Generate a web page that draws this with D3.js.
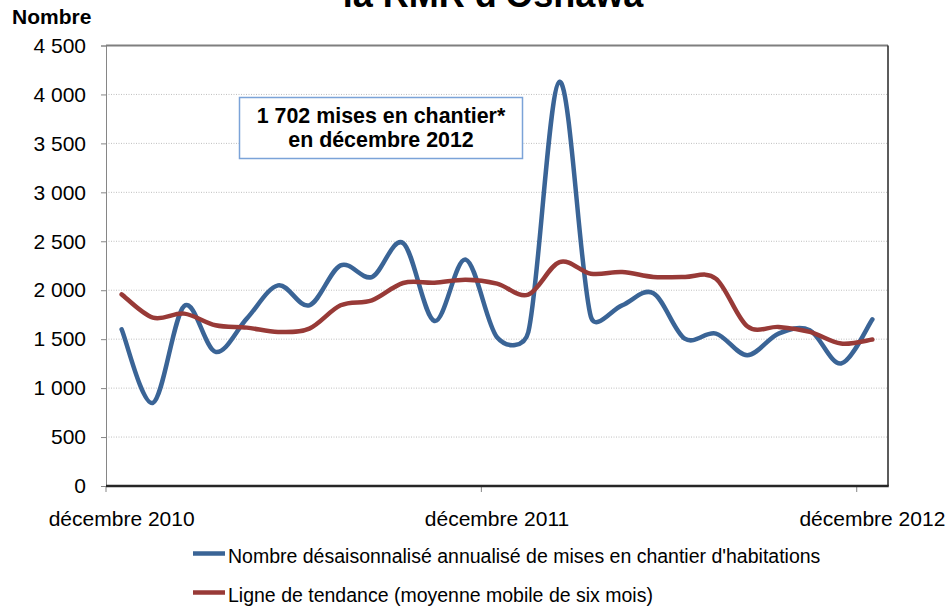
<!DOCTYPE html>
<html lang="fr">
  <head>
    <meta charset="utf-8">
    <title>Mises en chantier - RMR d'Oshawa</title>
    <script src="https://cdn.jsdelivr.net/npm/d3@7"></script>
    <style type="text/css">
body {
  margin: 0;
  background: #fff;
}

svg {
  font-family: "Liberation Sans", Arial, sans-serif;
}

.grid line {
  stroke: #bfbfbf;
  stroke-dasharray: 1,1.5;
}

.axis text {
  fill: #000;
}

.series {
  fill: none;
  stroke-width: 4.5px;
  stroke-linejoin: round;
  stroke-linecap: round;
}
    </style>
  </head>
  <body>
    <div id="mainCanvas"></div>

    <script>
      // monthly categories, Dec 2010 .. Dec 2012
      var months = ["déc. 2010", "janv. 2011", "févr. 2011", "mars 2011", "avr. 2011", "mai 2011",
        "juin 2011", "juil. 2011", "août 2011", "sept. 2011", "oct. 2011", "nov. 2011", "déc. 2011",
        "janv. 2012", "févr. 2012", "mars 2012", "avr. 2012", "mai 2012", "juin 2012", "juil. 2012",
        "août 2012", "sept. 2012", "oct. 2012", "nov. 2012", "déc. 2012"];

      // labels shown under the axis (one per year)
      var tickMonths = ["déc. 2010", "déc. 2011", "déc. 2012"];
      var tickLabels = ["décembre 2010", "décembre 2011", "décembre 2012"];

      var yTicks = [0, 500, 1000, 1500, 2000, 2500, 3000, 3500, 4000, 4500];

      // mises en chantier désaisonnalisées annualisées
      var starts = [1600, 850, 1840, 1370, 1710, 2050, 1846, 2254, 2135, 2482, 1686, 2312, 1520,
        1570, 4130, 1730, 1846, 1970, 1506, 1557, 1336, 1557, 1591, 1251, 1702];

      // moyenne mobile de six mois
      var trend = [1958, 1720, 1761, 1642, 1618, 1574, 1608, 1846, 1897, 2074, 2077, 2108, 2068,
        1955, 2288, 2169, 2186, 2135, 2135, 2118, 1632, 1625, 1574, 1455, 1496];

      var seriesNames = ["Nombre désaisonnalisé annualisé de mises en chantier d'habitations",
        "Ligne de tendance (moyenne mobile de six mois)"];
      var seriesColors = ["#3a6496", "#983a37"];

      // smoothing close to the spreadsheet one: bezier handles at 1/6 of the
      // neighbour chord, never longer than half of the segment itself
      function ExcelSmooth(context) { this._context = context; }
      ExcelSmooth.prototype = {
        areaStart: function() {},
        areaEnd: function() {},
        lineStart: function() { this._pts = []; },
        point: function(px, py) { this._pts.push([+px, +py]); },
        lineEnd: function() {
          var p = this._pts, n = p.length, c = this._context;
          if (!n) return;
          var dist = function(a, b) { return Math.hypot(b[0] - a[0], b[1] - a[1]); };
          c.moveTo(p[0][0], p[0][1]);
          for (var i = 0; i < n - 1; i++) {
            var p0 = p[Math.max(i - 1, 0)], p1 = p[i], p2 = p[i + 1], p3 = p[Math.min(i + 2, n - 1)];
            var d12 = dist(p1, p2), d02 = dist(p0, p2), d13 = dist(p1, p3);
            var f1 = d02 / 6 < d12 / 2 ? 1 / 6 : d12 / (2 * d02);
            var f2 = d13 / 6 < d12 / 2 ? 1 / 6 : d12 / (2 * d13);
            c.bezierCurveTo(
              p1[0] + f1 * (p2[0] - p0[0]), p1[1] + f1 * (p2[1] - p0[1]),
              p2[0] - f2 * (p3[0] - p1[0]), p2[1] - f2 * (p3[1] - p1[1]),
              p2[0], p2[1]);
          }
        }
      };
      var excelSmooth = function(context) { return new ExcelSmooth(context); };

      var W = 951, H = 610;
      var margin = {top: 45.5, right: 63, bottom: 124, left: 106};
      var width = W - margin.left - margin.right;
      var height = H - margin.top - margin.bottom;

      var fmt = function(v) { return d3.format(",")(v).replace(/,/g, " "); };

      var x = d3.scaleBand()
        .domain(months)
        .range([0, width]);

      var y = d3.scaleLinear()
        .domain([0, 4500])
        .range([height, 0]);

      var svg = d3.select("#mainCanvas").append("svg")
          .attr("width", W)
          .attr("height", H);

      // title (first line falls outside the picture, as in the source)
      svg.append("text")
          .attr("x", 493)
          .attr("y", 7)
          .attr("text-anchor", "middle")
          .style("font-weight", "bold")
          .style("font-size", "36px")
          .text("la RMR d'Oshawa");

      svg.append("text")
          .attr("x", 12)
          .attr("y", 24)
          .style("font-weight", "bold")
          .style("font-size", "21px")
          .text("Nombre");

      var g = svg.append("g")
          .attr("transform", "translate(" + margin.left + "," + margin.top + ")");

      // dotted gridlines
      g.append("g")
          .attr("class", "grid")
        .selectAll("line")
        .data(yTicks.filter(function(d) { return d > 0 && d < 4500; }))
        .enter().append("line")
          .attr("x1", 0)
          .attr("x2", width)
          .attr("y1", function(d) { return y(d); })
          .attr("y2", function(d) { return y(d); });

      // y axis
      var yAxis = d3.axisLeft(y)
        .tickValues(yTicks)
        .tickSize(5)
        .tickPadding(15)
        .tickFormat(fmt);

      var ya = g.append("g")
          .attr("class", "y axis")
          .call(yAxis);
      ya.select(".domain").attr("stroke", "#868686");
      ya.selectAll(".tick line").attr("stroke", "#868686");
      ya.selectAll("text").style("font-size", "21px");

      // x axis: ticks on category boundaries, labels on category centres
      g.append("g")
          .attr("class", "x ticks")
        .selectAll("line")
        .data(tickMonths)
        .enter().append("line")
          .attr("x1", function(d) { return x(d); })
          .attr("x2", function(d) { return x(d); })
          .attr("y1", height)
          .attr("y2", height + 6)
          .attr("stroke", "#868686");

      g.append("g")
          .attr("class", "x axis")
        .selectAll("text")
        .data(tickMonths)
        .enter().append("text")
          .attr("x", function(d) { return x(d) + x.bandwidth() / 2; })
          .attr("y", height + 40)
          .attr("text-anchor", "middle")
          .style("font-size", "21px")
          .text(function(d, i) { return tickLabels[i]; });

      // plot frame
      g.append("line")
          .attr("x1", 0).attr("x2", width)
          .attr("y1", 0).attr("y2", 0)
          .attr("stroke", "#7f7f7f")
          .attr("stroke-width", 2);
      g.append("line")
          .attr("x1", width).attr("x2", width)
          .attr("y1", 0).attr("y2", height)
          .attr("stroke", "#262626")
          .attr("stroke-width", 1.5);
      g.append("line")
          .attr("x1", 0).attr("x2", width + 0.75)
          .attr("y1", height).attr("y2", height)
          .attr("stroke", "#262626")
          .attr("stroke-width", 2.5);

      var line = d3.line()
        .x(function(d, i) { return x(months[i]) + x.bandwidth() / 2; })
        .y(function(d) { return y(d); })
        .curve(excelSmooth);

      [starts, trend].forEach(function(s, k) {
        g.append("path")
            .datum(s)
            .attr("class", "series")
            .attr("stroke", seriesColors[k])
            .attr("d", line);
      });

      // annotation box
      var note = svg.append("g");
      note.append("rect")
          .attr("x", 239.5)
          .attr("y", 97.5)
          .attr("width", 283)
          .attr("height", 61)
          .attr("fill", "#fff")
          .attr("stroke", "#7ba3d8")
          .attr("stroke-width", 1.5);
      note.append("text")
          .attr("x", 381)
          .attr("y", 123)
          .attr("text-anchor", "middle")
          .style("font-weight", "bold")
          .style("font-size", "21.4px")
          .text(fmt(starts[starts.length - 1]) + " mises en chantier*");
      note.append("text")
          .attr("x", 381)
          .attr("y", 147)
          .attr("text-anchor", "middle")
          .style("font-weight", "bold")
          .style("font-size", "21.4px")
          .text("en décembre 2012");

      // legend
      var legend = svg.append("g")
        .selectAll("g")
        .data(seriesNames)
        .enter().append("g")
          .attr("transform", function(d, i) { return "translate(193," + (553.5 + i * 39) + ")"; });

      legend.append("line")
          .attr("x1", 0)
          .attr("x2", 32)
          .attr("stroke", function(d, i) { return seriesColors[i]; })
          .attr("stroke-width", 4.5);

      legend.append("text")
          .attr("x", 35)
          .attr("y", 9)
          .style("font-size", "19.5px")
          .text(function(d) { return d; });
    </script>
  </body>
</html>
